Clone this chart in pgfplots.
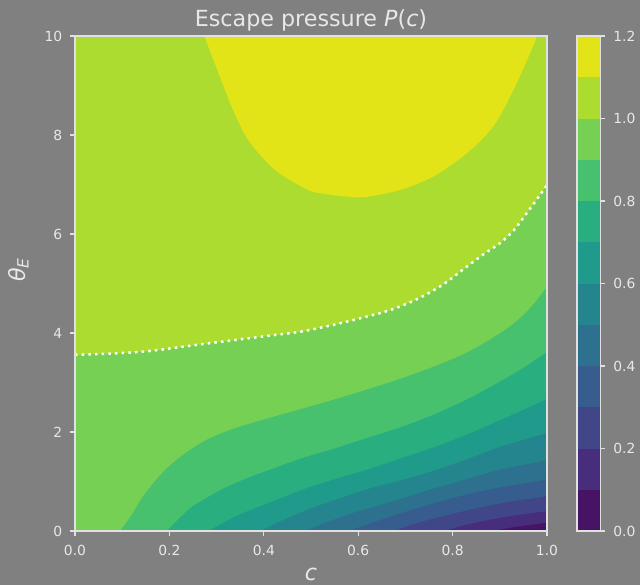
\documentclass[border=0pt]{standalone}
\usepackage{fontspec}
\setmainfont{DejaVu Sans}
\usepackage{pgfplots}
\pgfplotsset{compat=1.18}

% viridis sampled at the middle of each 0.1 band (0.0 ... 1.2)
\definecolor{c0}{RGB}{71,19,101}
\definecolor{c1}{RGB}{71,45,123}
\definecolor{c2}{RGB}{64,70,136}
\definecolor{c3}{RGB}{54,93,141}
\definecolor{c4}{RGB}{45,113,142}
\definecolor{c5}{RGB}{37,133,142}
\definecolor{c6}{RGB}{32,154,138}
\definecolor{c7}{RGB}{41,175,127}
\definecolor{c8}{RGB}{72,193,110}
\definecolor{c9}{RGB}{117,208,84}
\definecolor{c10}{RGB}{173,220,48}
\definecolor{c11}{RGB}{226,228,24}
\definecolor{bg}{RGB}{128,128,128}
\definecolor{fg}{RGB}{232,232,232}
\definecolor{spine}{RGB}{225,225,225}

\pgfplotsset{
  darkax/.style={
    scale only axis, axis on top,
    axis line style={spine, line width=0.8pt},
    tick align=outside, major tick length=3.5pt,
    tick style={spine, line width=0.8pt},
    /pgf/number format/assume math mode=true,
    every tick label/.append style={font=\fontsize{10}{12}\selectfont, text=fg},
  },
  % each band: the contour (a little past the frame at both ends), then a
  % detour well outside the frame, so that smoothing never shows
  band/.style={draw=none, fill=#1, smooth},
}

\begin{document}
\begin{tikzpicture}
\path[use as bounding box, fill=bg] (0,0) rectangle (460.8pt,421.2pt);

\begin{axis}[darkax,
  at={(54pt,38.88pt)}, anchor=south west,
  width=339.84pt, height=356.4pt,
  xmin=0, xmax=1, ymin=0, ymax=10,
  xtick={0,0.2,0.4,0.6,0.8,1.0}, ytick={0,2,4,6,8,10},
  xtick pos=left, ytick pos=left,
  xticklabel style={yshift=-3.2pt, /pgf/number format/.cd, fixed, fixed zerofill, precision=1},
  yticklabel style={xshift=-2.2pt},
  every axis title shift=0pt,
  title={Escape pressure \textit{P}(\textit{c})},
  title style={at={(axis description cs:0.5,1)}, anchor=base, yshift=6.7pt,
               font=\fontsize{16}{19}\selectfont, text=fg},
  xlabel={\textit{c}},
  xlabel style={at={(axis description cs:0.5,-0.1)}, anchor=base, inner sep=0pt,
                font=\fontsize{16}{19}\selectfont, text=fg},
  ylabel={\textit{θ\textsubscript{E}}},
  ylabel style={at={(axis description cs:-0.12,0.528)}, anchor=center,
                font=\fontsize{16}{19}\selectfont, text=fg},
]
% band 0.0-0.1 under everything
\addplot[draw=none, fill=c0] coordinates {(0,0) (1,0) (1,10) (0,10)};
% P >= 0.1
\addplot[band=c1] coordinates {(0.84,-0.08) (0.863,-0.04) (0.885,0) (0.93,0.08) (0.97,0.13) (1,0.17) (1.03,0.21) (1.06,0.25) (1.12,10.8) (-0.12,10.8) (-0.12,-0.8)};
% P >= 0.2
\addplot[band=c2] coordinates {(0.74,-0.104) (0.76,-0.052) (0.78,0) (0.83,0.13) (0.89,0.25) (0.95,0.34) (1,0.40) (1.03,0.436) (1.06,0.472) (1.12,10.8) (-0.12,10.8) (-0.12,-0.8)};
% P >= 0.3
\addplot[band=c3] coordinates {(0.635,-0.133) (0.655,-0.067) (0.675,0) (0.72,0.15) (0.78,0.30) (0.85,0.46) (0.92,0.59) (1,0.70) (1.03,0.74) (1.06,0.78) (1.12,10.8) (-0.12,10.8) (-0.12,-0.8)};
% P >= 0.4
\addplot[band=c4] coordinates {(0.54,-0.136) (0.56,-0.068) (0.58,0) (0.63,0.17) (0.69,0.36) (0.76,0.56) (0.83,0.74) (0.90,0.88) (1,1.04) (1.03,1.09) (1.06,1.14) (1.12,10.8) (-0.12,10.8) (-0.12,-0.8)};
% P >= 0.5
\addplot[band=c5] coordinates {(0.447,-0.158) (0.467,-0.079) (0.487,0) (0.53,0.17) (0.60,0.40) (0.68,0.62) (0.76,0.86) (0.83,1.05) (0.90,1.24) (1,1.43) (1.03,1.49) (1.06,1.54) (1.12,10.8) (-0.12,10.8) (-0.12,-0.8)};
% P >= 0.6
\addplot[band=c6] coordinates {(0.352,-0.184) (0.372,-0.092) (0.392,0) (0.44,0.22) (0.50,0.46) (0.56,0.66) (0.62,0.85) (0.70,1.05) (0.76,1.22) (0.83,1.45) (0.90,1.70) (1,1.98) (1.03,2.06) (1.06,2.15) (1.12,10.8) (-0.12,10.8) (-0.12,-0.8)};
% P >= 0.7
\addplot[band=c7] coordinates {(0.242,-0.21) (0.262,-0.105) (0.282,0) (0.32,0.20) (0.36,0.38) (0.424,0.62) (0.48,0.83) (0.54,1.02) (0.618,1.24) (0.69,1.47) (0.759,1.69) (0.83,1.95) (0.90,2.24) (0.95,2.45) (1,2.67) (1.03,2.80) (1.06,2.93) (1.12,10.8) (-0.12,10.8) (-0.12,-0.8)};
% P >= 0.8
\addplot[band=c8] coordinates {(0.174,-0.192) (0.184,-0.096) (0.194,0) (0.22,0.25) (0.247,0.49) (0.282,0.69) (0.318,0.88) (0.37,1.09) (0.424,1.28) (0.48,1.47) (0.55,1.67) (0.618,1.88) (0.69,2.10) (0.759,2.35) (0.83,2.66) (0.90,3.02) (0.95,3.30) (1,3.62) (1.03,3.81) (1.06,4.0) (1.12,10.8) (-0.12,10.8) (-0.12,-0.8)};
% P >= 0.9
\addplot[band=c9] coordinates {(0.081,-0.185) (0.088,-0.092) (0.095,0) (0.12,0.33) (0.141,0.66) (0.17,1.02) (0.20,1.32) (0.24,1.62) (0.282,1.86) (0.33,2.05) (0.38,2.20) (0.424,2.32) (0.48,2.47) (0.55,2.66) (0.618,2.86) (0.69,3.08) (0.759,3.32) (0.82,3.56) (0.865,3.79) (0.91,4.06) (0.94,4.28) (0.97,4.57) (1,4.94) (1.02,5.19) (1.04,5.44) (1.12,10.8) (-0.12,10.8) (-0.12,-0.8)};
% P >= 1.0
\addplot[band=c10] coordinates {(-0.08,3.526) (-0.04,3.543) (0,3.56) (0.141,3.62) (0.282,3.79) (0.424,3.96) (0.48,4.03) (0.55,4.17) (0.618,4.33) (0.67,4.47) (0.724,4.68) (0.78,4.98) (0.83,5.34) (0.87,5.62) (0.90,5.81) (0.93,6.08) (0.957,6.42) (0.98,6.72) (1,6.99) (1.02,7.26) (1.04,7.53) (1.12,10.8) (-0.12,10.8)};
% P >= 1.1
\addplot[band=c11] coordinates {(0.262,10.5) (0.268,10.25) (0.274,10) (0.296,9.45) (0.332,8.57) (0.367,7.90) (0.424,7.29) (0.494,6.89) (0.53,6.81) (0.583,6.75) (0.618,6.75) (0.689,6.89) (0.759,7.16) (0.830,7.63) (0.886,8.17) (0.929,8.91) (0.964,9.65) (0.979,10) (0.985,10.25) (0.99,10.5)};
% P = 1 contour, dotted
\addplot[white, smooth, line width=1.8pt, dash pattern=on 1.8pt off 3pt] coordinates {(0,3.56) (0.141,3.62) (0.282,3.79) (0.424,3.96) (0.48,4.03) (0.55,4.17) (0.618,4.33) (0.67,4.47) (0.724,4.68) (0.78,4.98) (0.83,5.34) (0.87,5.62) (0.90,5.81) (0.93,6.08) (0.957,6.42) (0.98,6.72) (1,6.99)};
\addplot[white, line width=1.8pt, dash pattern=on 1.8pt off 3pt] coordinates {(0,0) (0,10)};
\end{axis}

% colorbar
\begin{axis}[darkax,
  at={(415.44pt,38.88pt)}, anchor=south west,
  width=16.9pt, height=356.4pt,
  xmin=0, xmax=1, ymin=0, ymax=1.2,
  xtick=\empty, ytick={0,0.2,0.4,0.6,0.8,1.0,1.2},
  ytick pos=right, yticklabel pos=right,
  yticklabel style={xshift=2.2pt, /pgf/number format/.cd, fixed, fixed zerofill, precision=1},
]
\addplot[draw=none, fill=c0] coordinates {(0,0) (1,0) (1,0.1) (0,0.1)};
\addplot[draw=none, fill=c1] coordinates {(0,0.1) (1,0.1) (1,0.2) (0,0.2)};
\addplot[draw=none, fill=c2] coordinates {(0,0.2) (1,0.2) (1,0.3) (0,0.3)};
\addplot[draw=none, fill=c3] coordinates {(0,0.3) (1,0.3) (1,0.4) (0,0.4)};
\addplot[draw=none, fill=c4] coordinates {(0,0.4) (1,0.4) (1,0.5) (0,0.5)};
\addplot[draw=none, fill=c5] coordinates {(0,0.5) (1,0.5) (1,0.6) (0,0.6)};
\addplot[draw=none, fill=c6] coordinates {(0,0.6) (1,0.6) (1,0.7) (0,0.7)};
\addplot[draw=none, fill=c7] coordinates {(0,0.7) (1,0.7) (1,0.8) (0,0.8)};
\addplot[draw=none, fill=c8] coordinates {(0,0.8) (1,0.8) (1,0.9) (0,0.9)};
\addplot[draw=none, fill=c9] coordinates {(0,0.9) (1,0.9) (1,1.0) (0,1.0)};
\addplot[draw=none, fill=c10] coordinates {(0,1.0) (1,1.0) (1,1.1) (0,1.1)};
\addplot[draw=none, fill=c11] coordinates {(0,1.1) (1,1.1) (1,1.2) (0,1.2)};
\end{axis}
\end{tikzpicture}
\end{document}
